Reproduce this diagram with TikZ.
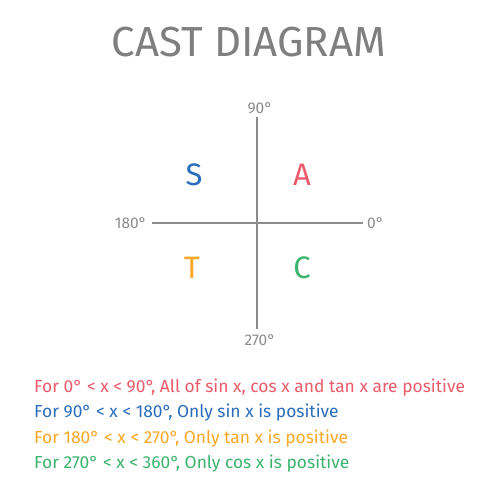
\documentclass[tikz,border=0pt]{standalone}
\usepackage{fontspec}
\setmainfont{Fira Sans}
\definecolor{axisgray}{HTML}{8C8C8C}
\definecolor{titlegray}{HTML}{7F7F7F}
\definecolor{cred}{HTML}{EC5B6B}
\definecolor{cblue}{HTML}{2A6EBB}
\definecolor{corange}{HTML}{F9A825}
\definecolor{cgreen}{HTML}{3CB46E}
\tikzset{
  axis/.style={draw=axisgray, line width=2pt},
  deg/.style={text=axisgray, font=\fontsize{15.5}{15.5}\selectfont, inner sep=0pt},
  quad/.style={font=\fontsize{31}{31}\selectfont, inner sep=0pt},
  rule/.style={anchor=west, font=\fontsize{17.4}{18}\selectfont, inner sep=0pt},
}
\begin{document}
\begin{tikzpicture}[x=1pt, y=-1pt]
\fill[white] (0,0) rectangle (500,500);
\useasboundingbox (0,0) rectangle (500,500);
\node[text=titlegray, font=\fontsize{42}{42}\selectfont, inner sep=0pt] (title) at (249,42) {CAST DIAGRAM};
\coordinate (top) at (257,117);
\coordinate (bot) at (257,329);
\coordinate (left) at (152,223);
\coordinate (right) at (363,223);
\draw[axis] (top) -- (bot);
\draw[axis] (left) -- (right);
\node[deg] (d90) at (260,108) {90°};
\node[deg, anchor=east] (d180) at (147,223) {180°};
\node[deg, anchor=west] (d0) at (367,223) {0°};
\node[deg] (d270) at (260,340) {270°};
\node[quad, text=cblue] (S) at (194,175) {S};
\node[quad, text=cred] (A) at (302,175) {A};
\node[quad, text=corange] (T) at (192,268) {T};
\node[quad, text=cgreen] (C) at (302,268) {C};
\node[rule, text=cred] (r1) at (34,388) {For 0° < x < 90°, All of sin x, cos x and tan x are positive};
\node[rule, text=cblue] (r2) at (34,413) {For 90° < x < 180°, Only sin x is positive};
\node[rule, text=corange] (r3) at (34,439) {For 180° < x < 270°, Only tan x is positive};
\node[rule, text=cgreen] (r4) at (34,464) {For 270° < x < 360°, Only cos x is positive};
\end{tikzpicture}
\end{document}
